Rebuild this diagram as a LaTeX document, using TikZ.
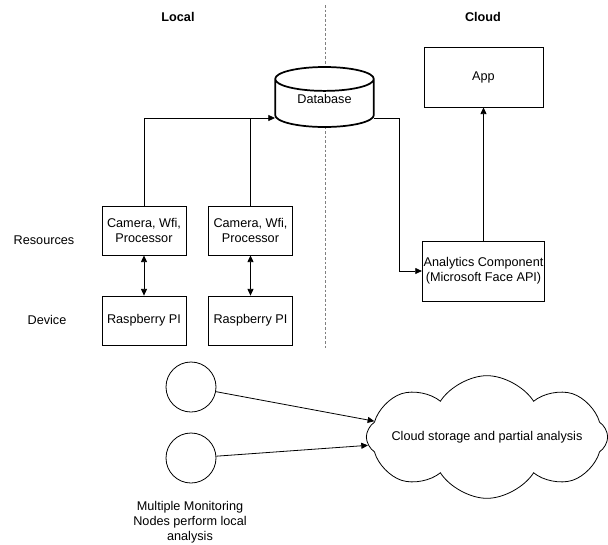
\documentclass[tikz,border=0pt]{standalone}
\usepackage{fontspec}
\setmainfont{Liberation Sans}
\usetikzlibrary{positioning,shapes.geometric,shapes.symbols,arrows.meta}
\tikzset{
 mon text/.style={font=\fontsize{9.5}{11.25}\selectfont,align=center},
 mon box/.style={mon text,draw,line width=.6pt,minimum width=63pt,
                 minimum height=36.75pt,inner sep=1pt},
 mon wide/.style={mon box,minimum width=89.25pt,minimum height=45pt},
 mon db/.style={mon text,draw,line width=1.3pt,cylinder,shape border rotate=90,
                aspect=.42,minimum width=74pt,minimum height=45pt,fill=white,inner sep=1pt},
 mon node/.style={circle,draw,line width=.6pt,minimum size=37.5pt,inner sep=0pt},
 mon cloud/.style={cloud,draw,line width=.6pt,cloud puffs=8,cloud puff arc=115,
                   minimum width=181pt,minimum height=92pt,inner sep=0pt},
 mon flow/.style={line width=.6pt,-{Triangle[length=5pt,width=4.5pt]}},
 mon link/.style={line width=.6pt,{Triangle[length=5pt,width=4.5pt]}-{Triangle[length=5pt,width=4.5pt]}},
 mon head/.style={font=\fontsize{9.5}{11.25}\selectfont\bfseries}
}
\begin{document}
\begin{tikzpicture}[x=.75pt,y=-.75pt]
 \useasboundingbox (0,0) rectangle (608,544);
 % local / cloud split
 \draw[gray,line width=.6pt,dash pattern=on 2pt off 1.5pt] (325,5) -- (325,350);
 \node[mon head] (hlocal) at (178,17) {Local};
 \node[mon head] (hcloud) at (483,17) {Cloud};
 \node[mon text] (lres) at (44,240) {Resources};
 \node[mon text] (ldev) at (47,320) {Device};
 % monitoring nodes
 \foreach \i/\x in {1/144,2/250.5}{
   \node[mon box] (cam\i) at (\x,230.5) {Camera, Wfi,\\Processor};
   \node[mon box] (rpi\i) at (\x,320.5) {Raspberry PI};
   \draw[mon link] (cam\i) -- (rpi\i);
 }
 \node[mon db,anchor=shape center] (db) at (324.5,97) {\phantom{Database}};
 \node[mon text] (dbtext) at (324.5,99) {Database};
 \node[mon wide] (app) at (483.5,77) {App};
 \node[mon wide] (ana) at (483.5,271) {Analytics Component\\(Microsoft Face API)};
 \coordinate (dbin) at (275,118);
 \coordinate (dbout) at (374,118);
 \draw[mon flow] (cam1.north) |- (dbin);
 \draw[line width=.6pt] (cam2.north) -- (cam2.north |- dbin);
 \draw[mon flow] (dbout) -- ++(25,0) |- (ana.west);
 \draw[mon flow] (ana) -- (app);
 % overview
 \node[mon node] (n1) at (191,387) {};
 \node[mon node] (n2) at (191,458) {};
 \node[mon cloud,label={[mon text]center:Cloud storage and partial analysis}]
   (cl) at (487,437) {};
 \draw[mon flow] (n1) -- (cl.172);
 \draw[mon flow] (n2) -- (cl.184);
 \node[mon text] (lmulti) at (190,522) {Multiple Monitoring\\Nodes perform local\\analysis};
\end{tikzpicture}
\end{document}
